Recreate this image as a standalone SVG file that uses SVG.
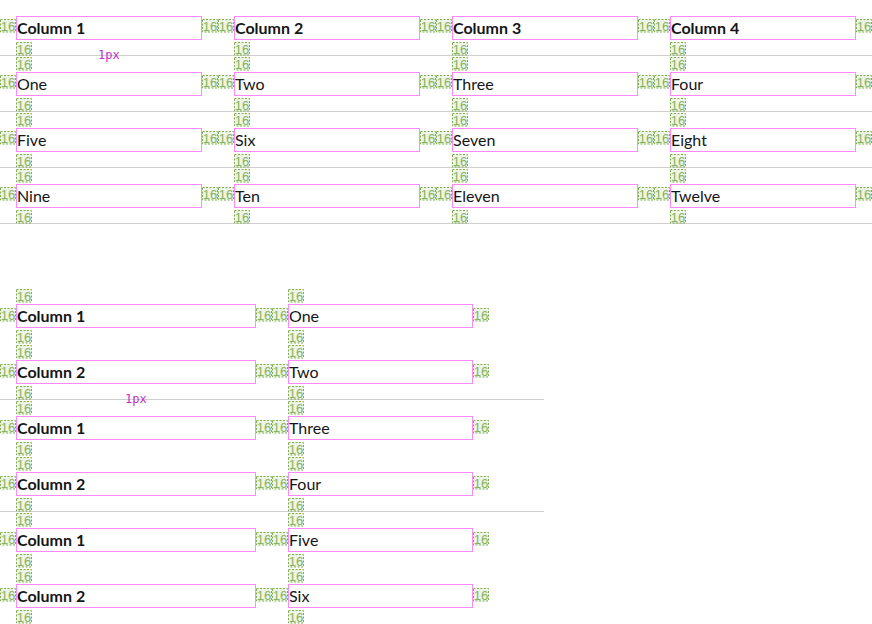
<svg xmlns="http://www.w3.org/2000/svg" xmlns:xlink="http://www.w3.org/1999/xlink" width="872" height="624" viewBox="0 0 872 624">
<style>
.bx{fill:#fff;stroke:#ff88ff;stroke-width:1}
.t{font-family:Lato,"Open Sans","Liberation Sans",sans-serif;font-size:16px;fill:#151515}
.h{font-weight:700}
.ln{stroke:#cfcfcf;stroke-width:1}
.px{font-family:"DejaVu Sans Mono","Liberation Mono",monospace;font-size:12px;fill:#c030c8}
.spr{fill:#eef5e6;stroke:#7cab4c;stroke-width:1;stroke-dasharray:2 1.5}
.spt{font-family:"Liberation Sans",Arial,sans-serif;font-size:13px;fill:#86b260;text-anchor:middle}
</style>
<defs>
<g id="sp"><rect class="spr" x="0.5" y="0.5" width="15" height="12.5"/><text class="spt" x="8" y="11.5">16</text></g>
</defs>
<g id="connectors">
<line class="ln" x1="0" y1="55.5" x2="872" y2="55.5"/>
<line class="ln" x1="0" y1="111.5" x2="872" y2="111.5"/>
<line class="ln" x1="0" y1="167.5" x2="872" y2="167.5"/>
<line class="ln" x1="0" y1="223.5" x2="872" y2="223.5"/>
<line class="ln" x1="0" y1="399.5" x2="544" y2="399.5"/>
<line class="ln" x1="0" y1="511.5" x2="544" y2="511.5"/>
<text class="px" x="98" y="59">1px</text>
<text class="px" x="125" y="403">1px</text>
</g>
<g id="spacers-top">
<use href="#sp" x="0" y="19"/><use href="#sp" x="202" y="19"/><use href="#sp" x="218" y="19"/><use href="#sp" x="420" y="19"/><use href="#sp" x="436" y="19"/><use href="#sp" x="638" y="19"/><use href="#sp" x="654" y="19"/><use href="#sp" x="856" y="19"/>
<use href="#sp" x="0" y="75"/><use href="#sp" x="202" y="75"/><use href="#sp" x="218" y="75"/><use href="#sp" x="420" y="75"/><use href="#sp" x="436" y="75"/><use href="#sp" x="638" y="75"/><use href="#sp" x="654" y="75"/><use href="#sp" x="856" y="75"/>
<use href="#sp" x="0" y="131"/><use href="#sp" x="202" y="131"/><use href="#sp" x="218" y="131"/><use href="#sp" x="420" y="131"/><use href="#sp" x="436" y="131"/><use href="#sp" x="638" y="131"/><use href="#sp" x="654" y="131"/><use href="#sp" x="856" y="131"/>
<use href="#sp" x="0" y="187"/><use href="#sp" x="202" y="187"/><use href="#sp" x="218" y="187"/><use href="#sp" x="420" y="187"/><use href="#sp" x="436" y="187"/><use href="#sp" x="638" y="187"/><use href="#sp" x="654" y="187"/><use href="#sp" x="856" y="187"/>
<use href="#sp" x="16" y="42"/><use href="#sp" x="16" y="57"/><use href="#sp" x="16" y="98"/><use href="#sp" x="16" y="113"/><use href="#sp" x="16" y="154"/><use href="#sp" x="16" y="169"/><use href="#sp" x="16" y="210"/>
<use href="#sp" x="234" y="42"/><use href="#sp" x="234" y="57"/><use href="#sp" x="234" y="98"/><use href="#sp" x="234" y="113"/><use href="#sp" x="234" y="154"/><use href="#sp" x="234" y="169"/><use href="#sp" x="234" y="210"/>
<use href="#sp" x="452" y="42"/><use href="#sp" x="452" y="57"/><use href="#sp" x="452" y="98"/><use href="#sp" x="452" y="113"/><use href="#sp" x="452" y="154"/><use href="#sp" x="452" y="169"/><use href="#sp" x="452" y="210"/>
<use href="#sp" x="670" y="42"/><use href="#sp" x="670" y="57"/><use href="#sp" x="670" y="98"/><use href="#sp" x="670" y="113"/><use href="#sp" x="670" y="154"/><use href="#sp" x="670" y="169"/><use href="#sp" x="670" y="210"/>
</g>
<g id="spacers-bottom">
<use href="#sp" x="16" y="289"/><use href="#sp" x="288" y="289"/>
<use href="#sp" x="0" y="308"/><use href="#sp" x="256" y="308"/><use href="#sp" x="272" y="308"/><use href="#sp" x="473" y="308"/>
<use href="#sp" x="0" y="364"/><use href="#sp" x="256" y="364"/><use href="#sp" x="272" y="364"/><use href="#sp" x="473" y="364"/>
<use href="#sp" x="0" y="420"/><use href="#sp" x="256" y="420"/><use href="#sp" x="272" y="420"/><use href="#sp" x="473" y="420"/>
<use href="#sp" x="0" y="476"/><use href="#sp" x="256" y="476"/><use href="#sp" x="272" y="476"/><use href="#sp" x="473" y="476"/>
<use href="#sp" x="0" y="532"/><use href="#sp" x="256" y="532"/><use href="#sp" x="272" y="532"/><use href="#sp" x="473" y="532"/>
<use href="#sp" x="0" y="588"/><use href="#sp" x="256" y="588"/><use href="#sp" x="272" y="588"/><use href="#sp" x="473" y="588"/>
<use href="#sp" x="16" y="330"/><use href="#sp" x="16" y="345"/><use href="#sp" x="16" y="386"/><use href="#sp" x="16" y="401"/><use href="#sp" x="16" y="442"/><use href="#sp" x="16" y="457"/><use href="#sp" x="16" y="498"/><use href="#sp" x="16" y="513"/><use href="#sp" x="16" y="554"/><use href="#sp" x="16" y="569"/><use href="#sp" x="16" y="610"/>
<use href="#sp" x="288" y="330"/><use href="#sp" x="288" y="345"/><use href="#sp" x="288" y="386"/><use href="#sp" x="288" y="401"/><use href="#sp" x="288" y="442"/><use href="#sp" x="288" y="457"/><use href="#sp" x="288" y="498"/><use href="#sp" x="288" y="513"/><use href="#sp" x="288" y="554"/><use href="#sp" x="288" y="569"/><use href="#sp" x="288" y="610"/>
</g>
<g id="c1"><rect class="bx" x="16.5" y="16.5" width="185" height="23"/><text class="t h" x="17" y="34">Column 1</text></g>
<g id="c2"><rect class="bx" x="234.5" y="16.5" width="185" height="23"/><text class="t h" x="235" y="34">Column 2</text></g>
<g id="c3"><rect class="bx" x="452.5" y="16.5" width="185" height="23"/><text class="t h" x="453" y="34">Column 3</text></g>
<g id="c4"><rect class="bx" x="670.5" y="16.5" width="185" height="23"/><text class="t h" x="671" y="34">Column 4</text></g>
<g id="one"><rect class="bx" x="16.5" y="72.5" width="185" height="23"/><text class="t" x="17" y="90">One</text></g>
<g id="two"><rect class="bx" x="234.5" y="72.5" width="185" height="23"/><text class="t" x="235" y="90">Two</text></g>
<g id="three"><rect class="bx" x="452.5" y="72.5" width="185" height="23"/><text class="t" x="453" y="90">Three</text></g>
<g id="four"><rect class="bx" x="670.5" y="72.5" width="185" height="23"/><text class="t" x="671" y="90">Four</text></g>
<g id="five"><rect class="bx" x="16.5" y="128.5" width="185" height="23"/><text class="t" x="17" y="146">Five</text></g>
<g id="six"><rect class="bx" x="234.5" y="128.5" width="185" height="23"/><text class="t" x="235" y="146">Six</text></g>
<g id="seven"><rect class="bx" x="452.5" y="128.5" width="185" height="23"/><text class="t" x="453" y="146">Seven</text></g>
<g id="eight"><rect class="bx" x="670.5" y="128.5" width="185" height="23"/><text class="t" x="671" y="146">Eight</text></g>
<g id="nine"><rect class="bx" x="16.5" y="184.5" width="185" height="23"/><text class="t" x="17" y="202">Nine</text></g>
<g id="ten"><rect class="bx" x="234.5" y="184.5" width="185" height="23"/><text class="t" x="235" y="202">Ten</text></g>
<g id="eleven"><rect class="bx" x="452.5" y="184.5" width="185" height="23"/><text class="t" x="453" y="202">Eleven</text></g>
<g id="twelve"><rect class="bx" x="670.5" y="184.5" width="185" height="23"/><text class="t" x="671" y="202">Twelve</text></g>
<g id="b-c1a"><rect class="bx" x="16.5" y="304.5" width="239" height="23"/><text class="t h" x="17" y="322">Column 1</text></g>
<g id="b-one"><rect class="bx" x="288.5" y="304.5" width="184" height="23"/><text class="t" x="289" y="322">One</text></g>
<g id="b-c2a"><rect class="bx" x="16.5" y="360.5" width="239" height="23"/><text class="t h" x="17" y="378">Column 2</text></g>
<g id="b-two"><rect class="bx" x="288.5" y="360.5" width="184" height="23"/><text class="t" x="289" y="378">Two</text></g>
<g id="b-c1b"><rect class="bx" x="16.5" y="416.5" width="239" height="23"/><text class="t h" x="17" y="434">Column 1</text></g>
<g id="b-three"><rect class="bx" x="288.5" y="416.5" width="184" height="23"/><text class="t" x="289" y="434">Three</text></g>
<g id="b-c2b"><rect class="bx" x="16.5" y="472.5" width="239" height="23"/><text class="t h" x="17" y="490">Column 2</text></g>
<g id="b-four"><rect class="bx" x="288.5" y="472.5" width="184" height="23"/><text class="t" x="289" y="490">Four</text></g>
<g id="b-c1c"><rect class="bx" x="16.5" y="528.5" width="239" height="23"/><text class="t h" x="17" y="546">Column 1</text></g>
<g id="b-five"><rect class="bx" x="288.5" y="528.5" width="184" height="23"/><text class="t" x="289" y="546">Five</text></g>
<g id="b-c2c"><rect class="bx" x="16.5" y="584.5" width="239" height="23"/><text class="t h" x="17" y="602">Column 2</text></g>
<g id="b-six"><rect class="bx" x="288.5" y="584.5" width="184" height="23"/><text class="t" x="289" y="602">Six</text></g>
</svg>
